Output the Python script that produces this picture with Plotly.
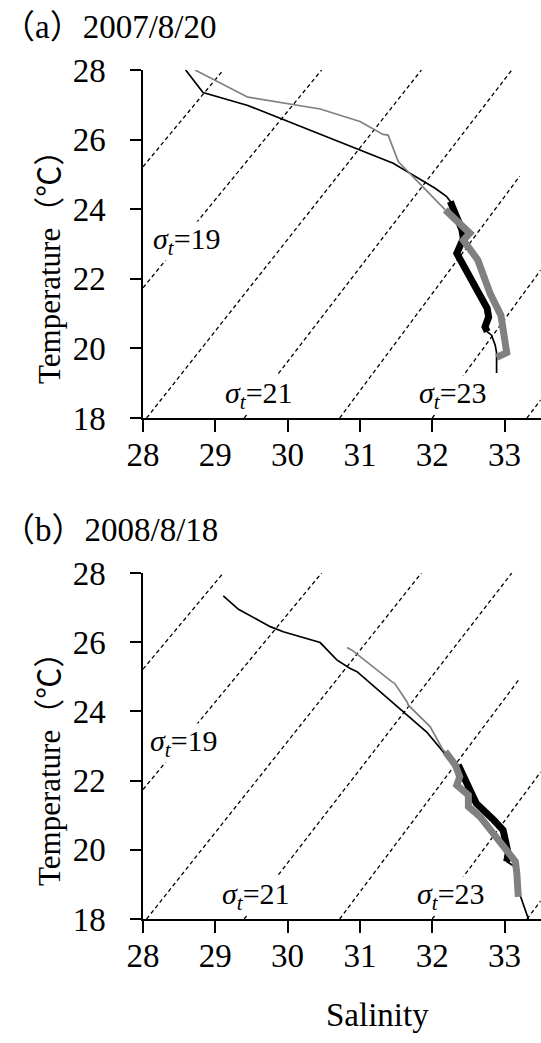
import plotly.graph_objects as go

# ---------------- data ----------------
# isopycnal (sigma_t) reference lines: end points in (Salinity, Temperature)
sigma_vals = [18, 19, 20, 21, 22, 23, 24]
iso_S0 = [28.00, 28.00, 28.05, 29.40, 30.72, 32.00, 33.31]
iso_T0 = [25.22, 21.74, 18.00, 18.00, 18.00, 18.00, 18.00]
iso_S1 = [29.11, 30.47, 31.85, 33.10, 33.21, 33.50, 33.50]
iso_T1 = [28.00, 28.00, 28.00, 28.00, 24.95, 22.25, 18.52]

# panel (a) 2007/8/20
a_thin_black_S = [28.59, 28.77, 28.83, 29.45, 31.46, 32.04, 32.20, 32.25, 32.41, 32.43, 32.34,
                  32.76, 32.78, 32.73, 32.76, 32.82, 32.87, 32.89, 32.89]
a_thin_black_T = [28.00, 27.52, 27.35, 26.98, 25.32, 24.60, 24.36, 24.22, 23.41, 23.16, 22.73,
                  21.15, 20.90, 20.62, 20.48, 20.38, 20.10, 19.87, 19.29]
a_thick_black_S = [32.25, 32.41, 32.43, 32.34, 32.76, 32.78, 32.73, 32.76]
a_thick_black_T = [24.22, 23.41, 23.16, 22.73, 21.15, 20.90, 20.62, 20.48]
a_thin_gray_S = [28.72, 29.45, 30.45, 31.00, 31.32, 31.39, 31.53, 32.18]
a_thin_gray_T = [28.00, 27.22, 26.88, 26.52, 26.15, 26.13, 25.37, 23.98]
a_thick_gray_S = [32.18, 32.40, 32.52, 32.43, 32.63, 32.80, 32.95, 33.03, 32.89]
a_thick_gray_T = [23.98, 23.55, 23.31, 23.11, 22.54, 21.58, 20.95, 19.88, 19.74]

# panel (b) 2008/8/18
b_thin_black_S = [29.11, 29.32, 29.76, 29.94, 30.45, 30.68, 30.86, 30.96, 31.92, 32.13, 32.15,
                  32.36, 32.45, 32.61, 32.85, 32.98, 33.05, 33.03, 33.15, 33.18, 33.26, 33.33]
b_thin_black_T = [27.34, 26.95, 26.45, 26.30, 25.99, 25.49, 25.25, 25.15, 23.41, 22.88, 22.84,
                  22.45, 22.02, 21.34, 20.86, 20.57, 19.90, 19.66, 19.50, 18.90, 18.45, 18.00]
b_thick_black_S = [32.36, 32.45, 32.61, 32.85, 32.98, 33.05, 33.03]
b_thick_black_T = [22.45, 22.02, 21.34, 20.86, 20.57, 19.90, 19.66]
b_thin_gray_S = [30.82, 30.89, 31.44, 31.48, 31.65, 31.67, 31.97, 32.15, 32.18]
b_thin_gray_T = [25.85, 25.77, 24.86, 24.81, 24.28, 24.18, 23.56, 22.88, 22.84]
b_thick_gray_S = [32.18, 32.32, 32.38, 32.34, 32.50, 32.50, 32.66, 33.03, 33.15, 33.17, 33.19]
b_thick_gray_T = [22.84, 22.45, 22.11, 21.87, 21.58, 21.25, 20.96, 19.95, 19.66, 19.32, 18.64]

panel_labels = ["a", "b"]
panel_dates = ["2007/8/20", "2008/8/18"]
x_ticks = [28, 29, 30, 31, 32, 33]
y_ticks = [18, 20, 22, 24, 26, 28]
label_sigmas = [19, 21, 23]

# ---------------- figure ----------------
W, H = 541, 1043
FONT = "Liberation Serif, Times New Roman, serif"
CJK = "Noto Sans CJK JP"
GRAY = "#808080"


def xp(px):
    return px / W


def yp(py):
    return 1 - py / H


def cjk(s):
    return f'<span style="font-family:{CJK}">{s}</span>'


fig = go.Figure()

panels = [
    dict(xa="x", ya="y", tb=(a_thin_black_S, a_thin_black_T), kb=(a_thick_black_S, a_thick_black_T),
         tg=(a_thin_gray_S, a_thin_gray_T), kg=(a_thick_gray_S, a_thick_gray_T)),
    dict(xa="x2", ya="y2", tb=(b_thin_black_S, b_thin_black_T), kb=(b_thick_black_S, b_thick_black_T),
         tg=(b_thin_gray_S, b_thin_gray_T), kg=(b_thick_gray_S, b_thick_gray_T)),
]

for p in panels:
    for s, s0, t0, s1, t1 in zip(sigma_vals, iso_S0, iso_T0, iso_S1, iso_T1):
        fig.add_trace(go.Scatter(x=[s0, s1], y=[t0, t1], mode="lines",
                                 line=dict(color="black", width=1.3, dash="4px,3px"),
                                 xaxis=p["xa"], yaxis=p["ya"], hoverinfo="skip"))
    fig.add_trace(go.Scatter(x=p["tb"][0], y=p["tb"][1], mode="lines",
                             line=dict(color="black", width=1.7),
                             xaxis=p["xa"], yaxis=p["ya"]))
    fig.add_trace(go.Scatter(x=p["tg"][0], y=p["tg"][1], mode="lines",
                             line=dict(color=GRAY, width=1.7),
                             xaxis=p["xa"], yaxis=p["ya"]))
    fig.add_trace(go.Scatter(x=p["kb"][0], y=p["kb"][1], mode="lines",
                             line=dict(color="black", width=7),
                             xaxis=p["xa"], yaxis=p["ya"]))
    fig.add_trace(go.Scatter(x=p["kg"][0], y=p["kg"][1], mode="lines",
                             line=dict(color=GRAY, width=7),
                             xaxis=p["xa"], yaxis=p["ya"]))

xdom = [xp(143), xp(540.7)]
ax_common = dict(showline=True, linecolor="black", linewidth=1.5, ticks="outside",
                 tickcolor="black", tickwidth=1.5, showgrid=False, zeroline=False,
                 automargin=False,
                 tickfont=dict(family=FONT, size=33, color="black"), mirror=False)

xaxis_cfg = dict(ax_common, range=[28, 33.5], tickvals=x_ticks, ticklen=12,
                 ticklabelstandoff=-5, domain=xdom)
yaxis_cfg = dict(ax_common, range=[18, 28], tickvals=y_ticks, ticklen=11,
                 ticklabelstandoff=18)

fig.update_layout(
    width=W, height=H, margin=dict(l=0, r=0, t=0, b=0, autoexpand=False),
    paper_bgcolor="white", plot_bgcolor="white", showlegend=False,
    xaxis=dict(xaxis_cfg, anchor="y"),
    yaxis=dict(yaxis_cfg, anchor="x", domain=[yp(418), yp(70)]),
    xaxis2=dict(xaxis_cfg, anchor="y2"),
    yaxis2=dict(yaxis_cfg, anchor="x2", domain=[yp(919), yp(573)]),
)

ann = []
# panel titles
for lab, date, ycen in zip(panel_labels, panel_dates, [24, 527]):
    ann.append(dict(text=cjk("（") + lab + cjk("）") + date, x=0, y=yp(ycen),
                    xref="paper", yref="paper",
                    xanchor="left", yanchor="middle", showarrow=False,
                    font=dict(family=FONT, size=33, color="black")))
# y axis titles
for ycen in [260, 762]:
    ann.append(dict(text="Temperature" + cjk("（℃）"), x=xp(46), y=yp(ycen),
                    xref="paper", yref="paper",
                    textangle=-90, xanchor="center", yanchor="middle", showarrow=False,
                    font=dict(family=FONT, size=31, color="black")))
# x axis title
ann.append(dict(text="Salinity", x=xp(377), y=yp(1015), xref="paper", yref="paper",
                xanchor="center", yanchor="middle", showarrow=False,
                font=dict(family=FONT, size=33, color="black")))
# sigma_t labels
label_pos = [[(187, 241), (259, 395), (453, 395)], [(184, 743), (256, 896), (451, 896)]]
for pos in label_pos:
    for s, (px, py) in zip(label_sigmas, pos):
        ann.append(dict(text=f"<i>σ</i><sub><i>t</i></sub>={s}", x=xp(px), y=yp(py),
                        xref="paper", yref="paper", xanchor="center", yanchor="middle",
                        showarrow=False, bgcolor="white", borderpad=0,
                        font=dict(family=FONT, size=30, color="black")))
fig.update_layout(annotations=ann)

fig.write_html("out.html", config={"displayModeBar": False},
               post_script="document.body.style.margin='0';document.body.style.padding='0';")
